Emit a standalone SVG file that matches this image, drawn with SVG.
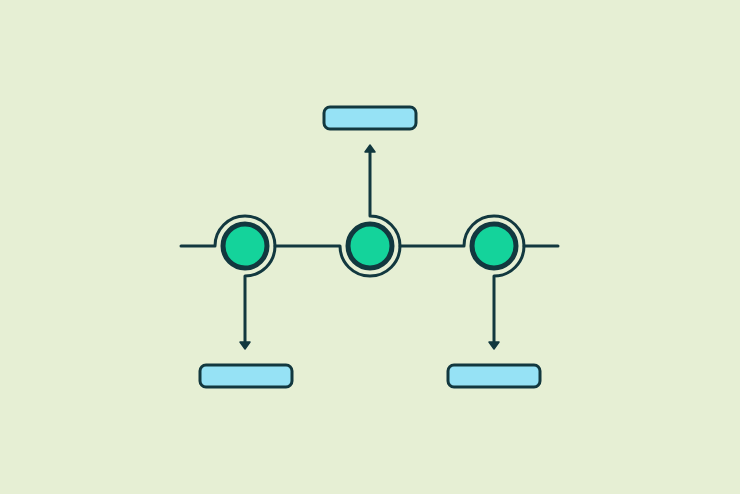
<svg xmlns="http://www.w3.org/2000/svg" width="740" height="494" viewBox="0 0 740 494">
<style>
.wire{fill:none;stroke:#12383f;stroke-width:3;stroke-linejoin:round;stroke-linecap:round}
.head{fill:#12383f;stroke:#12383f;stroke-width:1.5;stroke-linejoin:round}
.dot{fill:#14d39b;stroke:#12383f;stroke-width:5}
.box{fill:#96e2f5;stroke:#12383f;stroke-width:3}
</style>
<rect width="740" height="494" fill="#e6efd4"/>
<g id="connectors">
<path class="wire" d="M181,246 H215 A30,30 0 1 1 245,276 V342"/>
<polygon class="head" points="240,342 250,342 245,349"/>
<path class="wire" d="M275,246 H340 A30,30 0 1 0 370,216 V152"/>
<polygon class="head" points="365,152 375,152 370,145"/>
<path class="wire" d="M400,246 H464 A30,30 0 1 1 494,276 V342"/>
<polygon class="head" points="489,342 499,342 494,349"/>
<path class="wire" d="M524,246 H558"/>
</g>
<g id="node1"><circle class="dot" cx="245" cy="246" r="22"/></g>
<g id="node2"><circle class="dot" cx="370" cy="246" r="22"/></g>
<g id="node3"><circle class="dot" cx="494" cy="246" r="22"/></g>
<g id="box-top"><rect class="box" x="324" y="107" width="92" height="22" rx="6"/></g>
<g id="box-left"><rect class="box" x="200" y="365" width="92" height="22" rx="6"/></g>
<g id="box-right"><rect class="box" x="448" y="365" width="92" height="22" rx="6"/></g>
</svg>
